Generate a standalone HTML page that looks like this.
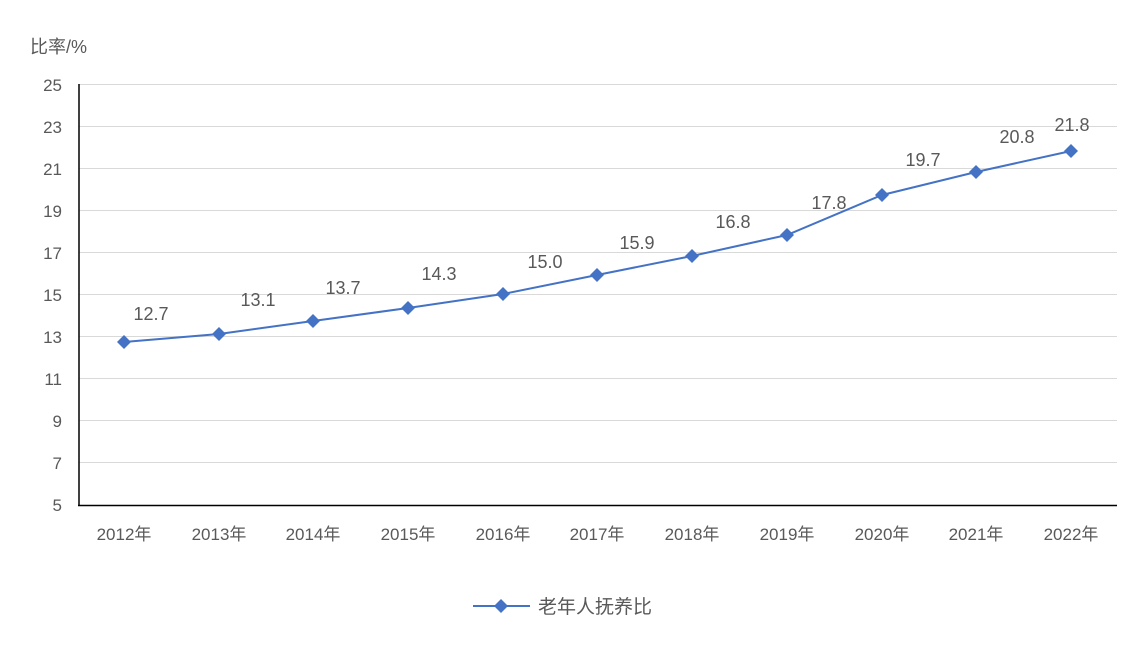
<!DOCTYPE html>
<html><head><meta charset="utf-8"><style>
body{margin:0;background:#fff}
svg text{font-family:"Liberation Sans","Noto Sans CJK SC",sans-serif;fill:#595959}
</style></head><body>
<svg width="1142" height="640" viewBox="0 0 1142 640" xmlns="http://www.w3.org/2000/svg">
<rect width="1142" height="640" fill="#fff"/>
<text x="30" y="53" font-size="18" fill="#404040">比率/%</text>
<g stroke="#d9d9d9" stroke-width="1">
<line x1="79" x2="1117" y1="84.5" y2="84.5"/>
<line x1="79" x2="1117" y1="126.5" y2="126.5"/>
<line x1="79" x2="1117" y1="168.5" y2="168.5"/>
<line x1="79" x2="1117" y1="210.5" y2="210.5"/>
<line x1="79" x2="1117" y1="252.5" y2="252.5"/>
<line x1="79" x2="1117" y1="294.5" y2="294.5"/>
<line x1="79" x2="1117" y1="336.5" y2="336.5"/>
<line x1="79" x2="1117" y1="378.5" y2="378.5"/>
<line x1="79" x2="1117" y1="420.5" y2="420.5"/>
<line x1="79" x2="1117" y1="462.5" y2="462.5"/>
</g>
<line x1="79" y1="84" x2="79" y2="506" stroke="#000" stroke-width="1.5"/>
<line x1="78" y1="505.5" x2="1117" y2="505.5" stroke="#000" stroke-width="1.5"/>
<g font-size="17" text-anchor="end">
<text x="62" y="91">25</text><text x="62" y="133">23</text><text x="62" y="175">21</text>
<text x="62" y="217">19</text><text x="62" y="259">17</text><text x="62" y="301">15</text>
<text x="62" y="343">13</text><text x="62" y="385">11</text><text x="62" y="427">9</text>
<text x="62" y="469">7</text><text x="62" y="511">5</text>
</g>
<g font-size="17" text-anchor="middle">
<text x="124" y="540">2012年</text><text x="219" y="540">2013年</text><text x="313" y="540">2014年</text>
<text x="408" y="540">2015年</text><text x="503" y="540">2016年</text><text x="597" y="540">2017年</text>
<text x="692" y="540">2018年</text><text x="787" y="540">2019年</text><text x="882" y="540">2020年</text>
<text x="976" y="540">2021年</text><text x="1071" y="540">2022年</text>
</g>
<polyline fill="none" stroke="#4472c4" stroke-width="2" points="124,342 219,334 313,321 408,308 503,294 597,275 692,256 787,235 882,195 976,172 1071,151"/>
<g fill="#4472c4">
<path d="M124 335l7 7-7 7-7-7z"/><path d="M219 327l7 7-7 7-7-7z"/><path d="M313 314l7 7-7 7-7-7z"/>
<path d="M408 301l7 7-7 7-7-7z"/><path d="M503 287l7 7-7 7-7-7z"/><path d="M597 268l7 7-7 7-7-7z"/>
<path d="M692 249l7 7-7 7-7-7z"/><path d="M787 228l7 7-7 7-7-7z"/><path d="M882 188l7 7-7 7-7-7z"/>
<path d="M976 165l7 7-7 7-7-7z"/><path d="M1071 144l7 7-7 7-7-7z"/>
</g>
<g font-size="18" text-anchor="middle" fill="#404040">
<text x="151" y="320">12.7</text><text x="258" y="306">13.1</text><text x="343" y="294">13.7</text>
<text x="439" y="280">14.3</text><text x="545" y="268">15.0</text><text x="637" y="249">15.9</text>
<text x="733" y="228">16.8</text><text x="829" y="209">17.8</text><text x="923" y="166">19.7</text>
<text x="1017" y="143">20.8</text><text x="1072" y="131">21.8</text>
</g>
<line x1="473" y1="606" x2="530" y2="606" stroke="#4472c4" stroke-width="2"/>
<path d="M501 599l7 7-7 7-7-7z" fill="#4472c4"/>
<text x="538" y="613" font-size="19">老年人抚养比</text>
</svg>
</body></html>
